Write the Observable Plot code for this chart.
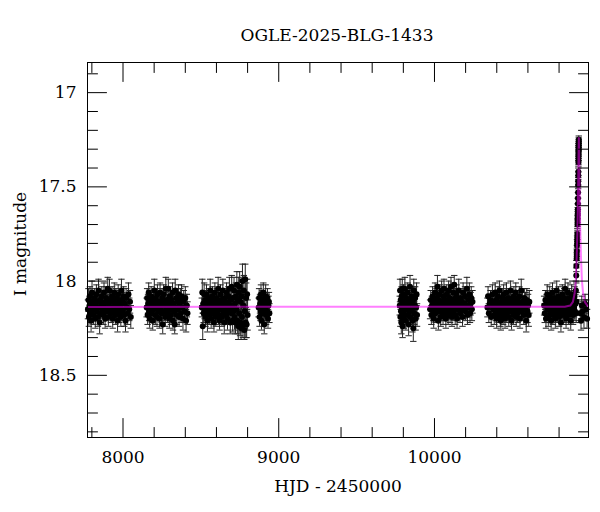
<!DOCTYPE html>
<html>
<head>
<meta charset="utf-8">
<script src="https://cdn.jsdelivr.net/npm/d3@7"></script>
<script src="https://cdn.jsdelivr.net/npm/@observablehq/plot@0.6"></script>
<style>
  html, body { margin: 0; padding: 0; background: #fff; }
  #title { font-family: "DejaVu Serif", serif; font-size: 17px; color: #000; height: 50px; line-height: 20px; padding-top: 25px; padding-left: 74px; box-sizing: border-box; text-align: center; width: 600px; }
  #chart svg { display: block; }
</style>
</head>
<body>
<div id="title">OGLE-2025-BLG-1433</div>
<div id="chart"></div>
<script>
// ---- data: [HJD-2450000, I mag, error] ----
const s2017 = [[7775,18.15,.05],[7778,18.10,.06],[7781,18.19,.05],[7785,18.13,.05],[7788,18.08,.05],[7791,18.17,.05],[7795,18.21,.06],[7798,18.12,.05],[7801,18.06,.06],[7805,18.15,.05],
[7808,18.11,.05],[7811,18.18,.05],[7815,18.14,.05],[7818,18.09,.05],[7822,18.20,.05],[7825,18.13,.05],[7829,18.07,.05],[7832,18.16,.05],[7836,18.11,.04],[7839,18.19,.05],
[7843,18.05,.06],[7846,18.14,.05],[7850,18.22,.06],[7853,18.10,.05],[7857,18.17,.05],[7860,18.12,.05],[7864,18.08,.05],[7867,18.15,.05],[7871,18.13,.05],[7874,18.18,.05],
[7878,18.06,.05],[7881,18.14,.05],[7885,18.20,.05],[7888,18.11,.05],[7892,18.09,.06],[7895,18.16,.05],[7899,18.13,.05],[7902,18.04,.06],[7906,18.19,.05],[7909,18.12,.05],
[7913,18.05,.06],[7916,18.15,.05],[7920,18.10,.05],[7923,18.17,.05],[7927,18.14,.05],[7930,18.08,.05],[7934,18.20,.05],[7937,18.11,.05],[7941,18.16,.05],[7944,18.06,.05],
[7948,18.13,.05],[7951,18.18,.05],[7955,18.09,.05],[7958,18.15,.05],[7962,18.12,.05],[7965,18.21,.06],[7969,18.07,.05],[7972,18.14,.05],[7976,18.17,.05],[7979,18.10,.05],
[7983,18.13,.05],[7986,18.19,.05],[7990,18.05,.06],[7993,18.16,.05],[7997,18.11,.05],[8000,18.15,.05],[8004,18.08,.05],[8008,18.18,.06],[8012,18.12,.05],[8016,18.21,.06],
[8020,18.09,.05],[8025,18.14,.06],[8030,18.17,.06],[8035,18.07,.06],[8040,18.15,.06],[8045,18.11,.06],[8050,18.19,.06]];

const s2018 = [[8152,18.14,.05],[8155,18.09,.05],[8158,18.18,.05],[8161,18.12,.05],[8165,18.06,.05],[8168,18.16,.05],[8171,18.20,.05],[8175,18.11,.05],[8178,18.14,.05],[8181,18.08,.05],
[8185,18.17,.05],[8188,18.13,.05],[8191,18.21,.05],[8195,18.10,.05],[8198,18.15,.05],[8201,18.05,.06],[8205,18.12,.05],[8208,18.18,.05],[8211,18.09,.05],[8215,18.14,.05],
[8218,18.19,.05],[8221,18.07,.05],[8225,18.13,.05],[8228,18.16,.05],[8231,18.11,.05],[8235,18.20,.05],[8238,18.06,.05],[8241,18.15,.05],[8245,18.12,.05],[8248,18.17,.05],
[8251,18.09,.05],[8255,18.23,.05],[8258,18.13,.05],[8261,18.07,.05],[8265,18.16,.05],[8268,18.11,.05],[8271,18.19,.05],[8275,18.04,.06],[8278,18.14,.05],[8281,18.10,.05],
[8285,18.17,.05],[8288,18.12,.05],[8291,18.04,.05],[8295,18.15,.05],[8298,18.20,.05],[8301,18.08,.05],[8305,18.13,.05],[8308,18.18,.05],[8311,18.10,.05],[8315,18.15,.05],
[8318,18.06,.05],[8321,18.21,.05],[8325,18.12,.05],[8328,18.16,.05],[8332,18.23,.05],[8335,18.05,.06],[8338,18.14,.05],[8342,18.09,.05],[8345,18.18,.05],[8349,18.11,.05],
[8352,18.15,.05],[8356,18.07,.05],[8360,18.19,.05],[8364,18.13,.05],[8368,18.10,.06],[8372,18.17,.05],[8376,18.08,.06],[8380,18.14,.06],[8385,18.20,.06],[8390,18.11,.06],
[8395,18.16,.06],[8400,18.09,.06],[8405,18.21,.06],[8410,18.13,.06],[8414,18.17,.06]];

const s2019 = [[8506,18.14,.05],[8509,18.06,.07],[8512,18.24,.07],[8515,18.12,.05],[8518,18.17,.05],[8521,18.07,.06],[8524,18.15,.05],[8527,18.10,.05],[8530,18.19,.05],[8533,18.13,.05],
[8536,18.07,.05],[8539,18.16,.05],[8542,18.21,.06],[8545,18.11,.05],[8548,18.14,.05],[8551,18.09,.05],[8554,18.18,.05],[8557,18.12,.05],[8560,18.05,.06],[8563,18.16,.05],
[8566,18.20,.05],[8569,18.10,.05],[8572,18.14,.05],[8575,18.08,.05],[8578,18.17,.05],[8581,18.13,.05],[8584,18.22,.05],[8587,18.11,.05],[8590,18.06,.05],[8593,18.15,.05],
[8596,18.19,.05],[8599,18.12,.05],[8602,18.09,.05],[8605,18.16,.05],[8608,18.14,.05],[8611,18.04,.06],[8614,18.18,.05],[8617,18.11,.05],[8620,18.21,.05],[8623,18.13,.05],
[8626,18.07,.05],[8629,18.15,.05],[8632,18.10,.05],[8635,18.19,.05],[8638,18.12,.05],[8641,18.05,.06],[8644,18.17,.05],[8647,18.14,.05],[8650,18.22,.06],[8653,18.09,.05],
[8656,18.15,.05],[8659,18.11,.05],[8662,18.18,.05],[8665,18.06,.05],[8668,18.14,.05],[8671,18.20,.06],[8674,18.12,.05],[8677,18.08,.05],[8680,18.16,.05],[8683,18.04,.06],
[8686,18.13,.05],[8689,18.22,.06],[8692,18.10,.06],[8695,18.17,.06],[8698,18.03,.06],[8701,18.14,.06],[8704,18.21,.06],[8707,18.09,.06],[8710,18.16,.07],[8713,18.05,.07],
[8716,18.19,.07],[8719,18.12,.06],[8722,18.22,.06],[8725,18.08,.07],[8728,18.15,.07],[8731,18.02,.07],[8734,18.21,.07],[8737,18.10,.07],[8740,18.24,.07],[8743,18.06,.08],
[8746,18.17,.07],[8749,18.03,.08],[8752,18.22,.07],[8755,18.11,.07],[8758,18.25,.06],[8761,18.08,.08],[8764,18.19,.08],[8767,18.00,.09],[8770,18.23,.07],[8773,18.13,.08],
[8776,18.05,.08],[8779,18.26,.05],[8782,18.16,.08],[8785,17.99,.08],[8788,18.22,.08],[8791,18.09,.08],[8794,18.23,.07],[8797,18.07,.08],[8800,18.18,.08]];

const s2020 = [[8871,18.14,.05],[8874,18.09,.05],[8877,18.19,.05],[8880,18.12,.05],[8883,18.16,.05],[8886,18.07,.05],[8889,18.21,.05],[8892,18.13,.05],[8895,18.10,.05],[8898,18.17,.05],
[8901,18.06,.05],[8904,18.15,.05],[8907,18.23,.05],[8910,18.11,.05],[8913,18.14,.05],[8916,18.08,.06],[8919,18.18,.05],[8922,18.12,.05],[8925,18.16,.05],[8928,18.09,.05],
[8931,18.20,.05],[8934,18.13,.05],[8937,18.11,.05],[8940,18.17,.05]];

const s2022 = [[9777,18.13,.05],[9779,18.05,.06],[9781,18.19,.05],[9783,18.10,.05],[9785,18.16,.05],[9787,18.22,.06],[9789,18.08,.05],[9791,18.14,.05],[9793,18.04,.05],[9795,18.24,.06],
[9797,18.11,.05],[9799,18.17,.05],[9801,18.07,.05],[9804,18.20,.05],[9807,18.13,.05],[9810,18.04,.06],[9813,18.15,.05],[9816,18.21,.05],[9819,18.09,.05],[9822,18.12,.05],
[9825,18.18,.05],[9828,18.06,.05],[9831,18.14,.05],[9834,18.23,.06],[9837,18.10,.05],[9840,18.16,.05],[9843,18.03,.06],[9846,18.19,.05],[9849,18.12,.05],[9852,18.08,.05],
[9855,18.15,.05],[9858,18.21,.06],[9861,18.11,.05],[9864,18.25,.07],[9867,18.05,.06],[9870,18.17,.06],[9873,18.13,.06],[9876,18.09,.06],[9879,18.20,.06],[9882,18.14,.06],
[9885,18.07,.06],[9888,18.18,.06]];

const s2023 = [[9972,18.15,.05],[9976,18.10,.05],[9980,18.18,.05],[9984,18.13,.05],[9988,18.08,.05],[9992,18.16,.05],[9995,18.20,.05],[9998,18.11,.05],[10001,18.14,.05],[10004,18.06,.05],
[10007,18.17,.05],[10010,18.12,.05],[10013,18.09,.05],[10016,18.15,.05],[10019,18.03,.06],[10022,18.13,.05],[10025,18.21,.05],[10028,18.10,.05],[10031,18.16,.05],[10034,18.07,.05],
[10037,18.14,.05],[10040,18.19,.05],[10043,18.11,.05],[10046,18.05,.05],[10049,18.15,.05],[10052,18.12,.05],[10055,18.18,.05],[10058,18.08,.05],[10061,18.04,.05],[10064,18.14,.05],
[10067,18.16,.05],[10070,18.10,.05],[10073,18.20,.05],[10076,18.13,.05],[10079,18.07,.05],[10082,18.15,.05],[10085,18.11,.05],[10088,18.18,.05],[10091,18.05,.05],[10094,18.14,.05],
[10097,18.09,.05],[10100,18.17,.05],[10103,18.12,.05],[10106,18.03,.05],[10109,18.15,.05],[10112,18.19,.05],[10115,18.10,.05],[10118,18.13,.05],[10121,18.06,.05],[10124,18.16,.05],
[10127,18.02,.05],[10130,18.12,.05],[10133,18.18,.05],[10136,18.09,.05],[10139,18.14,.05],[10142,18.07,.05],[10145,18.20,.05],[10148,18.11,.05],[10152,18.15,.05],[10156,18.05,.06],
[10160,18.13,.05],[10164,18.17,.05],[10168,18.09,.05],[10172,18.14,.05],[10176,18.11,.05],[10180,18.19,.05],[10184,18.06,.05],[10188,18.15,.05],[10192,18.12,.05],[10196,18.08,.05],
[10200,18.16,.05],[10204,18.13,.05],[10208,18.04,.06],[10212,18.18,.05],[10216,18.10,.05],[10220,18.14,.05],[10224,18.07,.06],[10228,18.17,.05],[10232,18.12,.06],[10236,18.09,.06],
[10240,18.15,.06],[10244,18.11,.06]];

const s2024 = [[10340,18.14,.05],[10344,18.08,.05],[10349,18.17,.05],[10355,18.12,.05],[10360,18.10,.05],[10364,18.19,.05],[10368,18.13,.05],[10372,18.07,.05],[10376,18.15,.05],[10380,18.11,.05],
[10384,18.18,.05],[10387,18.13,.05],[10390,18.06,.05],[10393,18.16,.05],[10396,18.10,.05],[10399,18.20,.05],[10402,18.12,.05],[10405,18.15,.05],[10408,18.08,.05],[10411,18.17,.05],
[10414,18.13,.05],[10417,18.05,.05],[10420,18.14,.05],[10423,18.19,.05],[10426,18.21,.05],[10429,18.11,.05],[10432,18.16,.05],[10435,18.09,.05],[10438,18.13,.05],[10441,18.18,.05],
[10444,18.07,.05],[10447,18.15,.05],[10450,18.12,.05],[10453,18.20,.05],[10456,18.10,.05],[10459,18.14,.05],[10462,18.06,.05],[10465,18.17,.05],[10468,18.12,.05],[10471,18.15,.05],
[10474,18.09,.05],[10477,18.19,.05],[10480,18.13,.05],[10483,18.11,.05],[10486,18.16,.05],[10489,18.05,.05],[10492,18.14,.05],[10495,18.21,.05],[10498,18.10,.05],[10501,18.15,.05],
[10504,18.12,.05],[10507,18.18,.05],[10510,18.08,.05],[10513,18.14,.05],[10516,18.16,.05],[10519,18.11,.05],[10522,18.06,.05],[10525,18.19,.05],[10528,18.13,.05],[10531,18.10,.05],
[10534,18.17,.05],[10537,18.12,.05],[10541,18.15,.05],[10545,18.08,.05],[10549,18.20,.05],[10553,18.13,.05],[10557,18.05,.06],[10561,18.16,.05],[10565,18.11,.05],[10569,18.14,.05],
[10573,18.18,.05],[10577,18.09,.05],[10581,18.15,.05],[10585,18.12,.06],[10589,18.21,.06],[10593,18.10,.06],[10597,18.16,.06],[10601,18.13,.06],[10605,18.18,.06],[10609,18.11,.06]];

const s2025 = [[10704,18.13,.05],[10708,18.17,.05],[10712,18.10,.05],[10716,18.20,.05],[10720,18.12,.05],[10724,18.07,.05],[10728,18.15,.05],[10731,18.19,.05],[10734,18.11,.05],[10737,18.14,.05],
[10740,18.08,.05],[10743,18.17,.05],[10746,18.13,.05],[10749,18.21,.05],[10752,18.10,.05],[10755,18.15,.05],[10758,18.06,.05],[10761,18.18,.05],[10764,18.12,.05],[10767,18.14,.05],
[10770,18.09,.05],[10773,18.16,.05],[10776,18.20,.05],[10779,18.11,.05],[10782,18.13,.05],[10785,18.05,.05],[10788,18.17,.05],[10791,18.12,.05],[10794,18.15,.05],[10797,18.08,.05],
[10800,18.19,.05],[10803,18.13,.05],[10806,18.10,.05],[10809,18.16,.05],[10812,18.22,.05],[10815,18.11,.05],[10818,18.14,.05],[10821,18.07,.05],[10824,18.18,.05],[10827,18.12,.05],
[10830,18.15,.05],[10833,18.09,.05],[10836,18.17,.05],[10839,18.04,.05],[10842,18.13,.05],[10845,18.20,.05],[10848,18.10,.05],[10851,18.15,.05],[10854,18.12,.05],[10857,18.06,.05],
[10860,18.18,.05],[10863,18.14,.05],[10866,18.09,.05],[10869,18.16,.05],[10872,18.11,.05],[10875,18.21,.05],[10878,18.13,.05],[10881,18.07,.05],[10884,18.15,.05],[10887,18.12,.05],
[10890,18.18,.05],[10893,18.10,.05],[10896,18.14,.05],[10899,18.08,.05],[10902,18.16,.05],[10905,18.12,.05],[10908,18.05,.05],[10910,18.17,.05],[10912,18.11,.05]];

const event2025 = [[10910.5,17.97,.04],[10911,17.92,.03],[10913,17.88,.03],[10913.7,17.86,.03],[10914.3,17.84,.03],[10915.2,17.81,.03],[10915.8,17.79,.03],[10916.5,17.77,.03],[10917.3,17.75,.03],
[10918.3,17.70,.03],[10918.7,17.68,.03],[10919.3,17.66,.03],[10920,17.64,.03],[10920.3,17.62,.03],[10920.8,17.59,.03],[10921.3,17.56,.03],[10921.9,17.53,.03],
[10922.6,17.49,.02],[10923,17.47,.02],[10923.4,17.44,.02],[10923.7,17.42,.02],[10924.4,17.37,.02],[10924.6,17.36,.02],[10924.8,17.34,.02],[10925,17.33,.02],
[10925.3,17.31,.02],[10925.5,17.30,.02],[10925.6,17.29,.02],[10925.8,17.28,.02],[10926,17.27,.02],[10926.3,17.26,.02],[10926.6,17.25,.02]];

const post2025 = [[10936,18.17,.05],[10941,18.21,.05],[10946,18.13,.05],[10953,18.16,.05],[10960,18.19,.06],[10967,18.12,.05],[10974,18.15,.05],[10980,18.20,.05]];

// fitted model (magenta)
const modelT = [7772, 10837, 10872, 10889, 10899, 10907, 10913, 10917, 10920, 10923, 10925, 10927, 10929, 10931, 10934, 10937, 10941, 10947, 10955, 10965, 10982, 10989];
const modelM = [18.137, 18.136, 18.13, 18.11, 18.07, 18.00, 17.88, 17.76, 17.64, 17.47, 17.33, 17.24, 17.33, 17.47, 17.64, 17.76, 17.88, 18.00, 18.07, 18.11, 18.13, 18.135];

// axes
const xDomain = [7772, 10989];
const yDomain = [16.84, 18.83];
const xMajor = [8000, 9000, 10000];
const xMinor = [7800, 8200, 8400, 8600, 8800, 9200, 9400, 9600, 9800, 10200, 10400, 10600, 10800];
const yMajor = [17, 17.5, 18, 18.5];
const yMinor = [16.9, 17.1, 17.2, 17.3, 17.4, 17.6, 17.7, 17.8, 17.9, 18.1, 18.2, 18.3, 18.4, 18.6, 18.7, 18.8];

// ---- build ----
const obs = [...s2017, ...s2018, ...s2019, ...s2020, ...s2022, ...s2023, ...s2024, ...s2025, ...event2025, ...post2025]
  .map(([t, m, e]) => ({t, m, e}));
const model = modelT.map((t, i) => ({t, m: modelM[i]}));

const capSymbol = {draw(ctx, size) { const r = Math.sqrt(size / Math.PI); ctx.moveTo(-r, 0); ctx.lineTo(r, 0); }};
const tickShape = {draw(ctx, l) { ctx.moveTo(0, 0); ctx.lineTo(0, -l); }};
const tk = (data, channel, frameAnchor, rotate, length) => Plot.vector(data, {
  [channel]: d => d, frameAnchor, rotate, length, anchor: "start", shape: tickShape, stroke: "#000", strokeWidth: 1
});

const chart = Plot.plot({
  width: 600,
  height: 462,
  marginTop: 12,
  marginBottom: 75,
  marginLeft: 87,
  marginRight: 12,
  style: {fontFamily: '"DejaVu Serif", serif', fontSize: "16px", color: "#000", background: "#fff"},
  x: {domain: xDomain},
  y: {domain: yDomain, reverse: true},
  marks: [
    Plot.ruleX(obs, {x: "t", y1: d => d.m - d.e, y2: d => d.m + d.e, stroke: "#222", strokeWidth: 1}),
    Plot.dot(obs, {x: "t", y: d => d.m - d.e, symbol: capSymbol, r: 3.2, stroke: "#222", fill: "none", strokeWidth: 1}),
    Plot.dot(obs, {x: "t", y: d => d.m + d.e, symbol: capSymbol, r: 3.2, stroke: "#222", fill: "none", strokeWidth: 1}),
    Plot.dot(obs, {x: "t", y: "m", r: 3, fill: "#000", stroke: "none"}),
    Plot.line(model, {x: "t", y: "m", stroke: "#ff00ff", strokeOpacity: 0.5, strokeWidth: 2, clip: true}),
    Plot.frame({stroke: "#000", strokeWidth: 1}),
    tk(xMajor, "x", "bottom", 0, 19), tk(xMinor, "x", "bottom", 0, 10),
    tk(xMajor, "x", "top", 180, 19), tk(xMinor, "x", "top", 180, 10),
    tk(yMajor, "y", "left", 90, 19), tk(yMinor, "y", "left", 90, 10),
    tk(yMajor, "y", "right", 270, 19), tk(yMinor, "y", "right", 270, 10),
    Plot.axisX({anchor: "bottom", ticks: xMajor, tickSize: 0, tickPadding: 13, tickFormat: d => `${d}`, label: null, fontSize: 17}),
    Plot.axisY({anchor: "left", ticks: yMajor, tickSize: 0, tickPadding: 11, tickFormat: d => `${d}`, label: null, fontSize: 17}),
    Plot.text(["HJD - 2450000"], {text: d => d, frameAnchor: "bottom", lineAnchor: "middle", dy: 49, fontSize: 17}),
    Plot.text(["I magnitude"], {text: d => d, frameAnchor: "left", textAnchor: "middle", lineAnchor: "middle", dx: -67, dy: -6, rotate: -90, fontSize: 17})
  ]
});
document.getElementById("chart").appendChild(chart);
</script>
</body>
</html>
